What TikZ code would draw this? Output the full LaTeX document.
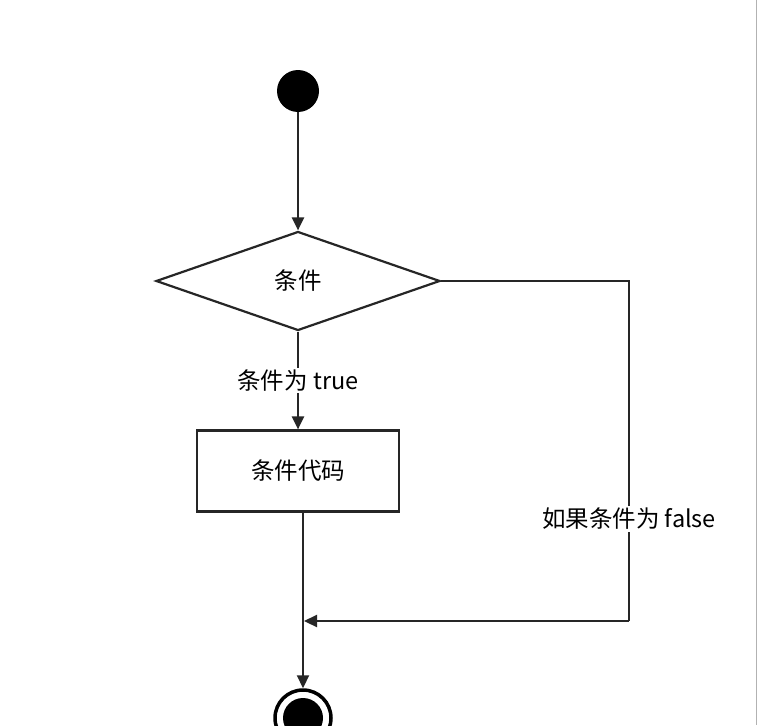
\documentclass[tikz,border=0pt]{standalone}
\usepackage{fontspec}
\setmainfont{Noto Sans CJK SC}
\usetikzlibrary{shapes.geometric,arrows.meta}
\begin{document}
\begin{tikzpicture}[x=1pt,y=-1pt,
  line/.style={draw=black!85,line width=2.2pt},
  arr/.style={line,-{Triangle[length=13pt,width=12pt]}},
  lbl/.style={fill=white,inner sep=2pt,font=\fontsize{23.5}{26}\selectfont}]
\path[use as bounding box,fill=white] (0,0) rectangle (757,725);
\begin{scope}
\clip (0,0) rectangle (757,725);
\draw[gray!60,line width=1pt] (756,0) -- (756,725);
\node[circle,fill=black,minimum size=42pt,inner sep=0] (start) at (298,91) {};
\node[diamond,line,aspect=2.86,minimum width=284pt,minimum height=99pt,inner sep=0,font=\fontsize{23.5}{26}\selectfont] (cond) at (298,281) {条件};
\node[rectangle,line,minimum width=202pt,minimum height=81pt,font=\fontsize{23.5}{26}\selectfont] (code) at (298,471) {条件代码};
\node[circle,draw=black,line width=3.5pt,minimum size=56pt,inner sep=0] (end) at (303,718) {};
\node[circle,fill=black,minimum size=40pt,inner sep=0] at (end) {};
\coordinate (j) at (303,621);
\coordinate (c1) at (629,281);
\coordinate (c2) at (629,621);
\draw[arr] (start) -- (cond);
\draw[arr] (cond) -- node[lbl]{条件为 true} (code);
\draw[line] (code.south -| j) -- (j);
\draw[arr] (j) -- (end);
\draw[line] (cond.east) -- (c1) -- node[lbl,pos=0.7]{如果条件为 false} (c2);
\draw[arr] (c2) -- ([xshift=1pt]j);
\end{scope}
\end{tikzpicture}
\end{document}
